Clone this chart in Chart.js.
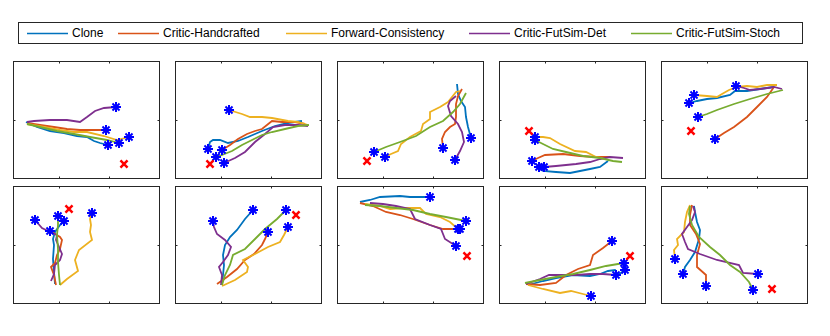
<!DOCTYPE html>
<html>
<head>
<meta charset="utf-8">
<script src="https://cdn.jsdelivr.net/npm/chart.js@4/dist/chart.umd.min.js"></script>
<style>
body { margin: 0; width: 830px; height: 336px; background: #fff; position: relative; overflow: hidden; font-family: "Liberation Sans", Arial, sans-serif; }
canvas.panel { position: absolute; }
#legend { position: absolute; left: 18px; top: 22px; width: 783px; height: 20px; border: 1px solid #262626; background: #fff; }
.lbl { position: absolute; top: 0; height: 20px; line-height: 21px; font-size: 12px; color: #000; white-space: nowrap; }
.sw { position: absolute; top: 9px; }
</style>
</head>
<body>
<div id="legend"></div>
<script>
"use strict";

const methods = ["Clone", "Critic-Handcrafted", "Forward-Consistency", "Critic-FutSim-Det", "Critic-FutSim-Stoch"];
const colors = ["#0072BD", "#D95319", "#EDB120", "#7E2F8E", "#77AC30"];

// axis ranges and tick values shared by every panel
const xRange = [0, 146];
const yRange = [0, 117];
const xTicks = [45.5, 96];
const yTicks = [58];

// one trajectory per panel, [x, y] pairs, last point = final position
const clone = [
    [[13,56],[24,51],[37,47],[51,45],[64,42],[74,41],[81,37],[87,35],[95,33]],
    [[127,57],[113,55],[100,52],[87,47],[73,41],[63,37],[53,35],[45,38],[38,38],[35,36],[33,29]],
    [[120,94],[121,84],[124,77],[128,71],[129,61],[131,51],[134,40]],
    [[109,17],[101,11],[91,9],[81,7],[71,5],[57,6],[44,7],[40,11]],
    [[113,91],[99,89],[86,87],[74,87],[69,83],[56,80],[46,79],[36,77],[28,75]],
    [[42,19],[41,31],[40,44],[41,58],[40,64],[42,71],[47,78],[51,82]],
    [[47,18],[48,28],[49,38],[48,48],[50,58],[55,66],[62,73],[70,84],[78,93]],
    [[23,101],[33,103],[43,106],[63,107],[73,106],[93,106]],
    [[29,18],[44,22],[57,25],[74,28],[91,27],[101,29],[109,32],[116,33],[119,28],[126,33]],
    [[33,97],[34,91],[36,81],[39,73],[38,64],[34,51],[29,43],[24,36],[22,29]]
];
const handcrafted = [
    [[14,55],[27,53],[41,51],[54,49],[67,48],[81,48],[93,48]],
    [[130,54],[120,56],[107,56],[97,57],[87,49],[80,47],[72,44],[63,39],[55,33],[47,28]],
    [[125,89],[121,82],[119,74],[119,61],[118,54],[113,51],[108,46],[105,39],[106,30]],
    [[111,21],[97,21],[81,22],[64,24],[46,23],[39,20],[33,17]],
    [[113,91],[106,81],[96,71],[86,61],[73,51],[63,45],[54,39]],
    [[43,18],[41,28],[38,36],[42,40],[44,48],[47,54],[49,63],[47,66],[37,72]],
    [[42,19],[52,26],[62,34],[70,43],[79,49],[87,58],[90,64],[93,71]],
    [[23,100],[36,97],[49,91],[63,88],[76,84],[93,78],[106,74],[123,74]],
    [[27,19],[41,18],[57,20],[67,28],[79,34],[91,38],[94,48],[104,55],[113,62]],
    [[31,98],[29,88],[29,78],[35,69],[39,59],[36,48],[36,36],[45,28],[45,17]]
];
const forwardCons = [
    [[14,54],[31,51],[47,48],[61,46],[74,46],[91,42],[104,38],[116,41]],
    [[133,53],[123,56],[113,57],[97,60],[87,61],[75,61],[67,64],[54,68]],
    [[123,87],[119,86],[111,76],[103,71],[93,66],[93,59],[86,54],[84,47],[73,41],[64,34],[61,27],[54,24],[48,21]],
    [[107,19],[97,21],[87,26],[76,27],[61,34],[51,40],[44,41],[36,41]],
    [[116,93],[106,93],[96,91],[86,92],[76,91],[68,88],[61,84],[56,81],[46,82],[33,83]],
    [[47,18],[54,24],[65,32],[62,43],[66,53],[79,63],[77,71],[78,78],[77,84],[79,90]],
    [[47,17],[60,23],[72,31],[73,36],[68,43],[80,49],[93,56],[105,61],[109,68],[113,76]],
    [[28,99],[43,97],[53,94],[66,95],[83,95],[89,89],[103,86],[113,81],[121,74]],
    [[29,18],[44,14],[61,10],[72,12],[84,9],[92,7]],
    [[29,98],[26,91],[24,81],[23,71],[16,64],[17,58],[13,53],[14,44]]
];
const futSimDet = [
    [[14,56],[21,57],[37,58],[54,58],[67,56],[74,61],[82,67],[91,70],[103,71]],
    [[133,52],[123,53],[110,53],[98,51],[90,44],[80,36],[70,26],[60,20],[49,15]],
    [[119,82],[113,77],[111,72],[114,62],[121,54],[125,46],[127,36],[123,27],[118,18]],
    [[124,20],[111,21],[101,19],[91,16],[77,14],[57,12],[45,11]],
    [[121,89],[113,91],[99,89],[89,88],[83,90],[75,92]],
    [[38,22],[41,29],[42,38],[47,43],[49,49],[46,56],[43,63],[44,68],[37,71],[29,75],[22,83]],
    [[46,18],[47,28],[44,36],[48,41],[53,48],[56,56],[50,63],[42,69],[39,76],[38,82]],
    [[33,100],[46,99],[59,97],[73,94],[78,84],[93,78],[104,74],[108,64],[119,57]],
    [[27,19],[41,24],[50,28],[64,28],[77,28],[91,29],[104,29],[117,28]],
    [[32,97],[34,91],[31,83],[26,76],[21,69],[24,61],[27,54],[39,49],[56,43],[78,38],[82,30],[97,29]]
];
const futSimStoch = [
    [[14,54],[27,51],[44,47],[61,44],[77,41],[94,38],[106,35]],
    [[134,53],[123,52],[110,49],[97,46],[87,43],[77,38],[67,33],[57,27],[47,23],[41,21]],
    [[129,85],[123,74],[116,66],[106,57],[93,51],[79,42],[63,36],[49,31],[37,26]],
    [[123,16],[114,17],[101,20],[84,22],[67,26],[54,29],[44,34],[36,38]],
    [[122,88],[106,84],[89,79],[73,74],[56,68],[46,64],[37,61]],
    [[47,18],[46,28],[45,41],[45,54],[44,68],[45,78],[45,87]],
    [[47,18],[50,28],[55,38],[58,48],[70,54],[80,64],[90,74],[102,84],[111,93]],
    [[28,98],[43,97],[59,95],[76,93],[93,89],[109,86],[129,82]],
    [[26,20],[41,23],[57,26],[74,29],[91,33],[107,37],[125,40]],
    [[29,97],[28,89],[31,78],[38,66],[49,56],[59,48],[69,38],[79,31],[88,21],[92,13]]
];
const goals = [[111,14],[35,14],[30,17],[30,47],[30,47],[56,94],[121,88],[130,47],[131,47],[111,14]];

const allSeries = [clone, handcrafted, forwardCons, futSimDet, futSimStoch];

const pad = 6;
const boxW = 146, boxH = 117;

// draws the matlab-like box with inward ticks on all four sides
const boxPlugin = {
    id: "box",
    afterDatasetsDraw(chart) {
        const {ctx, chartArea: a, scales: {x, y}} = chart;
        const l = Math.round(a.left) + 0.5, r = Math.round(a.right) + 0.5;
        const t = Math.round(a.top) + 0.5, b = Math.round(a.bottom) + 0.5;
        ctx.save();
        ctx.strokeStyle = "#262626";
        ctx.lineWidth = 1;
        ctx.strokeRect(l, t, r - l, b - t);
        ctx.beginPath();
        xTicks.forEach(v => {
            const px = Math.round(x.getPixelForValue(v)) + 0.5;
            ctx.moveTo(px, b); ctx.lineTo(px, b - 2);
            ctx.moveTo(px, t); ctx.lineTo(px, t + 2);
        });
        yTicks.forEach(v => {
            const py = Math.round(y.getPixelForValue(v)) + 0.5;
            ctx.moveTo(l, py); ctx.lineTo(l + 2, py);
            ctx.moveTo(r, py); ctx.lineTo(r - 2, py);
        });
        ctx.stroke();
        ctx.restore();
    }
};

function toPoints(arr) {
    return arr.map(p => ({x: p[0], y: p[1]}));
}

function buildPanel(i) {
    const col = i % 5, row = Math.floor(i / 5);
    const canvas = document.createElement("canvas");
    canvas.className = "panel";
    canvas.width = boxW + 2 * pad;
    canvas.height = boxH + 2 * pad;
    canvas.style.left = (13 + 162 * col - pad) + "px";
    canvas.style.top = ([61, 186][row] - pad) + "px";
    document.body.appendChild(canvas);

    const datasets = allSeries.map((series, k) => ({
        data: toPoints(series[i]),
        showLine: true,
        borderColor: colors[k],
        borderWidth: 1.8,
        pointRadius: 0,
        tension: 0,
        order: 10 - k
    }));
    datasets.push({
        data: allSeries.map(series => {
            const last = series[i][series[i].length - 1];
            return {x: last[0], y: last[1]};
        }),
        pointStyle: "star",
        pointRadius: 5,
        borderColor: "#0000FF",
        backgroundColor: "#0000FF",
        borderWidth: 2,
        order: 1
    });
    datasets.push({
        data: [{x: goals[i][0], y: goals[i][1]}],
        pointStyle: "crossRot",
        pointRadius: 5,
        borderColor: "#FF0000",
        borderWidth: 2.5,
        order: 0
    });

    new Chart(canvas.getContext("2d"), { //NOSONAR
        type: "scatter",
        data: {datasets: datasets},
        options: {
            responsive: false,
            animation: false,
            events: [],
            layout: {padding: pad, autoPadding: false},
            plugins: {legend: {display: false}, tooltip: {enabled: false}},
            scales: {
                x: {type: "linear", min: xRange[0], max: xRange[1], display: false},
                y: {type: "linear", min: yRange[0], max: yRange[1], display: false}
            }
        },
        plugins: [boxPlugin]
    });
}

function buildLegend() {
    const legend = document.getElementById("legend");
    const starts = [8, 99, 267, 450, 612];
    methods.forEach((name, k) => {
        const sw = document.createElementNS("http://www.w3.org/2000/svg", "svg");
        sw.setAttribute("class", "sw");
        sw.setAttribute("width", "41");
        sw.setAttribute("height", "3");
        sw.style.left = starts[k] + "px";
        sw.innerHTML = `<line x1="0" y1="1.5" x2="41" y2="1.5" stroke="${colors[k]}" stroke-width="1.5"/>`;
        legend.appendChild(sw);
        const lbl = document.createElement("span");
        lbl.className = "lbl";
        lbl.style.left = (starts[k] + 45) + "px";
        lbl.textContent = name;
        legend.appendChild(lbl);
    });
}

buildLegend();
for (let i = 0; i < 10; i++) {
    buildPanel(i);
}
</script>
</body>
</html>
